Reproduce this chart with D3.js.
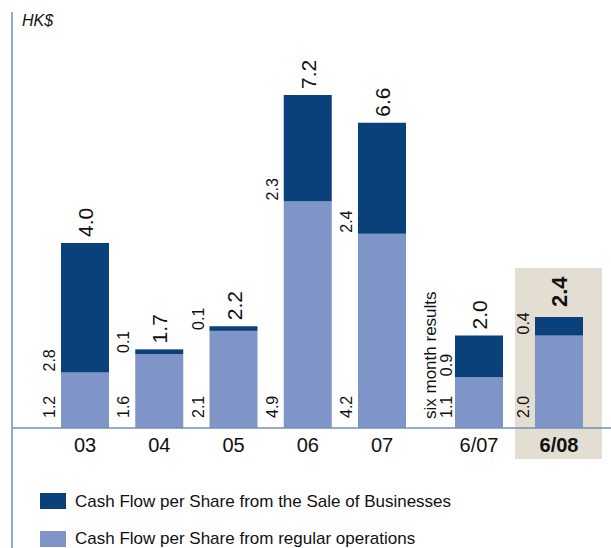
<!DOCTYPE html>
<html>
<head>
  <meta charset="utf-8">
  <title>Cash Flow per Share</title>
  <script src="https://d3js.org/d3.v7.min.js"></script>
  <style>
    body { margin: 0; background: #fff; }
    text { font-family: "Liberation Sans", Arial, sans-serif; fill: #111; }
  </style>
</head>
<body>
  <svg id="chart" width="611" height="548"></svg>

  <script>
    const width = 611;
    const height = 548;

    // dados
    const categorias = ["03", "04", "05", "06", "07", "6/07", "6/08"];
    const regular = [1.2, 1.6, 2.1, 4.9, 4.2, 1.1, 2.0];
    const venda = [2.8, 0.1, 0.1, 2.3, 2.4, 0.9, 0.4];
    const totais = ["4.0", "1.7", "2.2", "7.2", "6.6", "2.0", "2.4"];
    const legendaTextos = [
      "Cash Flow per Share from the Sale of Businesses",
      "Cash Flow per Share from regular operations"
    ];

    const corVenda = "#0a417a";
    const corRegular = "#7f95c8";
    const corEixo = "#7090b8";

    const svg = d3.select("#chart");

    const axisY = 428;
    const barW = 48;

    // escala x: posições por índice (gap maior antes dos semestres)
    const x = d3.scaleLinear()
      .domain([0, 4, 5, 6])
      .range([85, 382, 479, 559]);

    const y = d3.scaleLinear()
      .domain([0, 8])
      .range([axisY, axisY - 8 * 46.25]);

    const dados = categorias.map((c, i) => ({
      cat: c, i: i, reg: regular[i], venda: venda[i], total: totais[i]
    }));

    // destaque do último período
    svg.append("rect")
      .attr("x", x(6) - 44)
      .attr("y", 268)
      .attr("width", 87)
      .attr("height", 191)
      .attr("fill", "#e3ddd2");

    // barras
    const g = svg.append("g");

    g.selectAll(".reg")
      .data(dados)
      .enter().append("rect")
      .attr("x", d => x(d.i) - barW / 2)
      .attr("y", d => y(d.reg))
      .attr("width", barW)
      .attr("height", d => axisY - y(d.reg))
      .attr("fill", corRegular);

    g.selectAll(".venda")
      .data(dados)
      .enter().append("rect")
      .attr("x", d => x(d.i) - barW / 2)
      .attr("y", d => y(d.reg + d.venda))
      .attr("width", barW)
      .attr("height", d => y(d.reg) - y(d.reg + d.venda))
      .attr("fill", corVenda);

    // eixos
    svg.append("line")
      .attr("x1", 12).attr("x2", 12)
      .attr("y1", 12).attr("y2", height)
      .attr("stroke", corEixo)
      .attr("stroke-width", 1.5);

    svg.append("line")
      .attr("x1", 12).attr("x2", width)
      .attr("y1", axisY).attr("y2", axisY)
      .attr("stroke", corEixo)
      .attr("stroke-width", 1.5);

    svg.append("text")
      .attr("x", 22)
      .attr("y", 26)
      .style("font-size", "16px")
      .style("font-style", "italic")
      .text("HK$");

    // rótulos das categorias
    svg.selectAll(".cat")
      .data(dados)
      .enter().append("text")
      .attr("x", d => x(d.i))
      .attr("y", 452)
      .attr("text-anchor", "middle")
      .style("font-size", "20px")
      .style("font-weight", d => d.i === 6 ? "bold" : "normal")
      .text(d => d.cat);

    // valores regulares (embaixo, à esquerda)
    const off = d => d.i === 5 ? 3 : 6;

    svg.selectAll(".lblReg")
      .data(dados)
      .enter().append("text")
      .attr("transform", d => `translate(${x(d.i) - barW / 2 - off(d)},${axisY - 10}) rotate(-90)`)
      .style("font-size", "16px")
      .text(d => d.reg.toFixed(1));

    // valores de venda (na divisa)
    svg.selectAll(".lblVenda")
      .data(dados)
      .enter().append("text")
      .attr("transform", d => `translate(${x(d.i) - barW / 2 - off(d)},${y(d.reg) - 1}) rotate(-90)`)
      .style("font-size", "16px")
      .text(d => d.venda.toFixed(1));

    // totais
    svg.selectAll(".lblTotal")
      .data(dados)
      .enter().append("text")
      .attr("transform", d => `translate(${x(d.i) + 8},${y(d.reg + d.venda) - (d.i === 6 ? 10 : 6)}) rotate(-90)`)
      .style("font-size", d => d.i === 6 ? "22px" : "21px")
      .style("font-weight", d => d.i === 6 ? "bold" : "normal")
      .text(d => d.total);

    svg.append("text")
      .attr("transform", `translate(${x(5) - barW / 2 - 19},${axisY - 9}) rotate(-90)`)
      .style("font-size", "17px")
      .text("six month results");

    // legenda
    const legenda = svg.append("g");
    const cores = [corVenda, corRegular];

    legenda.selectAll("rect")
      .data(cores)
      .enter().append("rect")
      .attr("x", 40)
      .attr("y", (_, i) => 493 + i * 38)
      .attr("width", 26)
      .attr("height", 16)
      .attr("fill", d => d);

    legenda.selectAll("text")
      .data(legendaTextos)
      .enter().append("text")
      .attr("x", 75)
      .attr("y", (_, i) => 507 + i * 37)
      .style("font-size", "17px")
      .text(d => d);
  </script>
</body>
</html>
